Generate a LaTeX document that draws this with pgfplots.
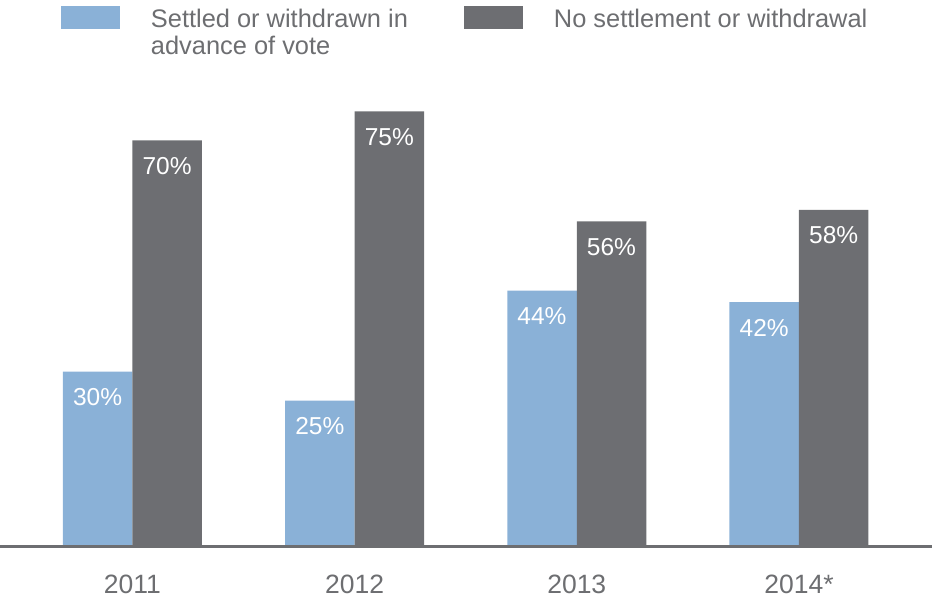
\documentclass[border=0pt]{standalone}
\usepackage{fontspec}
\setmainfont{Liberation Sans}
\usepackage{pgfplots}
\pgfplotsset{compat=1.18}
\definecolor{lb}{HTML}{8AB1D7}
\definecolor{dg}{HTML}{6D6E72}
\definecolor{tg}{HTML}{6D6E71}
\begin{document}
\begin{tikzpicture}
\begin{axis}[
 name=ax,
 scale only axis, width=932pt, height=485pt,
 xmin=-0.5954, xmax=3.5986, ymin=0, ymax=83.91,
 ybar=0pt, bar width=69.5pt,
 axis line style={draw=none},
 major tick length=0pt,
 ytick=\empty,
 xtick={0,1,2,3}, xticklabels={2011,2012,2013,2014*},
 xticklabel style={anchor=base, yshift=-48pt, inner sep=0pt, font=\fontsize{26.5}{30}\selectfont, text=tg},
 clip=false,
 /pgf/number format/assume math mode=true,
 nodes near coords={\pgfmathprintnumber[assume math mode=true]{\pgfplotspointmeta}\%},
 nodes near coords style={anchor=base, yshift=-34pt, text=white, font=\fontsize{24.5}{29}\selectfont, inner sep=0pt},
 legend style={at={(axis description cs:0.06545,1.1113)}, anchor=north west, draw=none, fill=none, inner sep=0pt, outer sep=0pt, legend columns=2, font=\fontsize{25.4}{27}\selectfont, cells={anchor=base}, nodes={inner sep=0pt, text=tg}, /tikz/every odd column/.append style={column sep=31pt}, /tikz/every even column/.append style={column sep=33pt}},
]
\addplot[fill=lb, draw=none, legend image code/.code={\fill[lb] (0pt,-2pt) rectangle (59pt,21pt);}] coordinates {(0,30) (1,25) (2,44) (3,42)};
\addplot[fill=dg, draw=none, legend image code/.code={\fill[dg] (0pt,-2pt) rectangle (59pt,21pt);}] coordinates {(0,70) (1,75) (2,56) (3,58)};
\legend{{\parbox[t]{280pt}{\raggedright\baselineskip=27pt Settled or withdrawn in\\advance of vote}}, No settlement or withdrawal}
\draw[line width=3pt, tg] ([yshift=-1.5pt]rel axis cs:0,0) -- ([yshift=-1.5pt]rel axis cs:1,0);
\end{axis}
\pgfresetboundingbox
\path[use as bounding box] ([yshift=-52pt]ax.south west) rectangle ([yshift=60pt]ax.north east);
\end{tikzpicture}
\end{document}
